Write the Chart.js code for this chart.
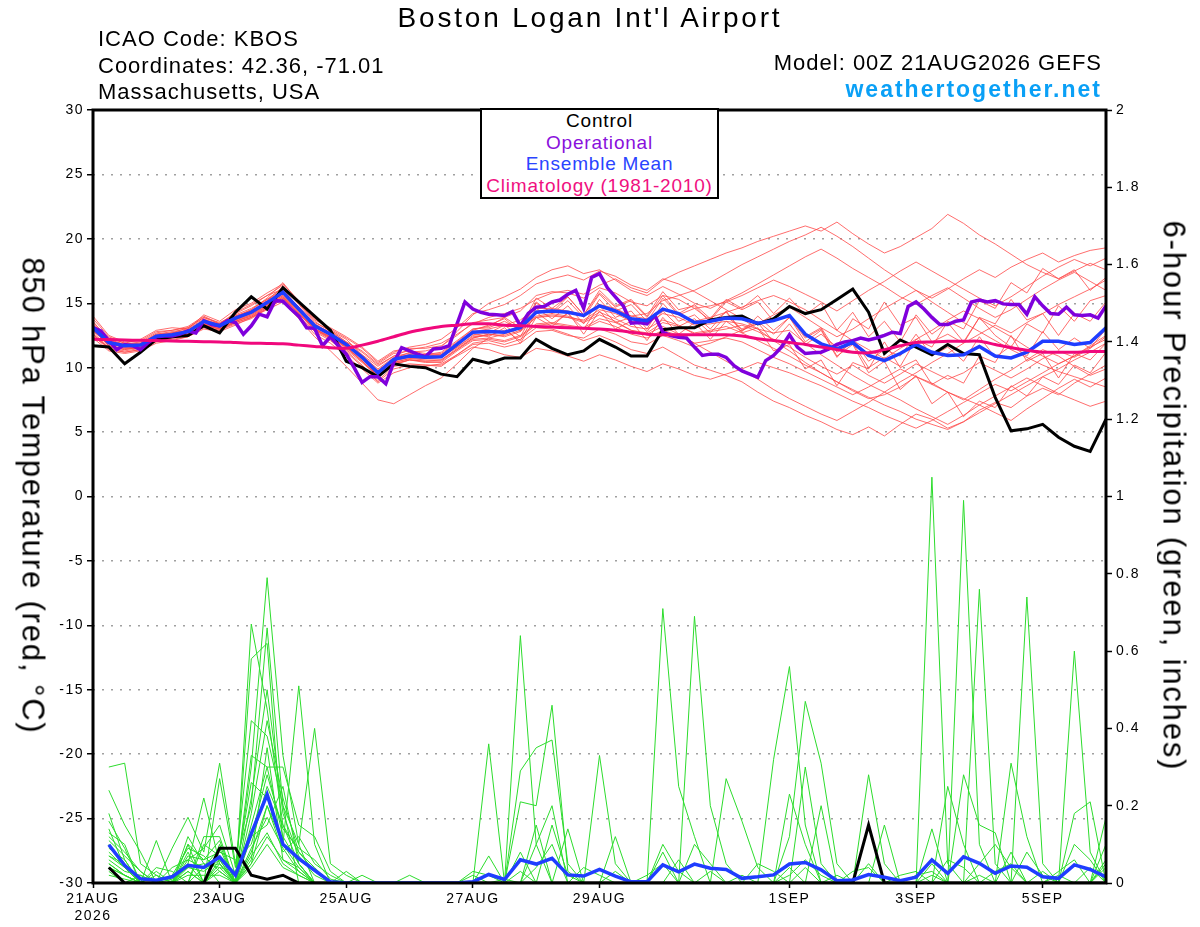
<!DOCTYPE html>
<html>
<head>
<meta charset="utf-8">
<title>Boston Logan Int'l Airport - GEFS</title>
<script src="https://cdn.jsdelivr.net/npm/chart.js@4.4.1/dist/chart.umd.min.js"></script>
<style>
  body { margin: 0; background: #fff; }
  #wrap { position: relative; width: 1200px; height: 927px; background: #fff; overflow: hidden; }
  #chart { position: absolute; left: 0; top: 0; }
  .txt { position: absolute; font-family: "Liberation Sans", Arial, Helvetica, sans-serif; line-height: 1; white-space: nowrap; color: #000; }
  #title { left: 0; width: 1180px; text-align: center; top: 4px; font-size: 28px; letter-spacing: 2.8px; }
  .info { left: 98px; font-size: 22px; letter-spacing: 1px; }
  #model { right: 98px; top: 52px; font-size: 22px; letter-spacing: 1px; }
  #site { right: 98px; top: 78px; font-size: 23px; font-weight: bold; letter-spacing: 2px; color: #0aa0f6; }
  #legend { left: 480px; top: 108px; width: 239px; height: 91px; box-sizing: border-box; border: 2px solid #000; background: #fff;
            text-align: center; font-size: 19px; letter-spacing: 0.8px; }
  #legend div { height: 21.7px; line-height: 21.7px; }
  .axis-title { font-size: 31px; letter-spacing: 1.85px; transform: translate(-50%, -50%) rotate(90deg); }
</style>
</head>
<body>
<div id="wrap">
  <canvas id="chart" width="1200" height="927"></canvas>
  <div class="txt" id="title">Boston Logan Int'l Airport</div>
  <div class="txt info" style="top:28px">ICAO Code: KBOS</div>
  <div class="txt info" style="top:55px">Coordinates: 42.36, -71.01</div>
  <div class="txt info" style="top:81px">Massachusetts, USA</div>
  <div class="txt" id="model">Model: 00Z 21AUG2026 GEFS</div>
  <div class="txt" id="site">weathertogether.net</div>
  <div class="txt" id="legend">
    <div style="color:#000">Control</div>
    <div style="color:#8a10dc">Operational</div>
    <div style="color:#2a44ff">Ensemble Mean</div>
    <div style="color:#f0107f">Climatology (1981-2010)</div>
  </div>
  <div class="txt axis-title" style="left:32.5px; top:496px">850 hPa Temperature (red, °C)</div>
  <div class="txt axis-title" style="left:1174px; top:496px">6-hour Precipitation (green, inches)</div>
</div>
<script>
// forecast steps are 6-hourly from 00Z 21AUG (step 0) to 00Z 6SEP (step 64)
const tickSteps = [0, 8, 16, 24, 32, 44, 52, 60];
const tickLabels = [['21AUG', '2026'], '23AUG', '25AUG', '27AUG', '29AUG', '1SEP', '3SEP', '5SEP'];

// 850 hPa temperature, steps 0..64
const controlTemp = [
  11.7,11.6,10.3,11.2,12.2,12.4,12.5,13.25, 12.7,14.3,15.5,14.55,16.2,15.1,14.0,12.9,
  10.5,10.0,9.3,10.3,10.1,10.0,9.5,9.3, 10.65,10.35,10.75,10.75,12.2,11.5,11.0,11.3,
  12.2,11.6,10.9,10.9,12.95,13.1,13.1,13.7, 13.9,14.0,13.4,13.8,14.75,14.2,14.5,15.3,
  16.1,14.3,11.1,12.15,11.6,11.0,11.8,11.1, 11.0,7.7,5.1,5.25,5.6,4.6,3.9,3.5, 6.0
];
const meanTemp = [
  13.1,11.95,11.7,11.75,12.45,12.55,12.8,13.6, 13.25,13.85,14.3,15.05,15.85,14.55,13.25,12.6,
  11.8,10.8,9.6,10.65,10.9,10.8,10.85,11.8, 12.75,12.8,12.75,13.1,14.3,14.4,14.3,14.05,
  14.8,14.4,13.8,13.65,14.55,14.2,13.5,13.6, 13.85,13.8,13.45,13.65,14.05,12.6,11.85,11.45,
  11.95,10.95,10.55,11.1,11.8,11.2,10.95,11.0, 11.65,10.9,10.75,11.2,12.05,12.05,11.8,11.95, 13.1
];
const climoTemp = [
  12.2,12.18,12.15,12.12,12.1,12.07,12.05,12.02, 12.0,11.95,11.9,11.88,11.85,11.75,11.65,11.55,
  11.5,11.75,12.05,12.4,12.75,13.0,13.2,13.3, 13.4,13.4,13.3,13.25,13.2,13.15,13.1,13.05,
  13.0,12.9,12.75,12.6,12.55,12.55,12.55,12.55, 12.55,12.45,12.25,12.1,11.95,11.8,11.6,11.4,
  11.2,11.15,11.4,11.7,11.95,12.0,12.05,12.05, 12.05,11.8,11.55,11.35,11.2,11.2,11.2,11.25, 11.25
];
// operational run is 3-hourly: steps 0, 0.5, 1 ... 64
const operationalTemp = [
  13.1,12.85,12.1,11.4,11.8,11.7,11.4,11.95,  12.4,12.45,12.45,12.6,12.85,12.7,13.65,13.35,
  13.25,13.65,13.5,12.6,13.25,14.15,13.95,15.2, 15.15,14.55,14.0,13.1,13.05,11.7,12.4,11.7,
  11.05,10.0,8.85,9.3,9.3,8.75,10.4,11.55,   11.3,11.05,10.85,11.45,11.5,11.7,13.4,15.1,
  14.55,14.3,14.15,14.1,14.05,14.35,13.25,14.2, 14.7,14.75,15.1,15.25,15.7,16.0,14.6,17.0,
  17.3,16.2,15.5,14.8,13.45,13.5,13.4,14.05, 12.75,12.5,12.35,12.3,11.6,10.95,11.05,11.05,
  10.8,10.15,9.75,9.5,9.25,10.55,10.95,11.6,  12.55,11.6,11.1,11.15,11.2,11.45,11.8,12.0,
  12.1,12.3,12.15,12.3,12.5,12.75,12.65,14.75, 15.1,14.55,13.9,13.35,13.35,13.6,13.7,15.1,
  15.25,15.1,15.2,14.95,14.9,14.9,14.15,15.5, 14.8,14.2,14.15,14.7,14.1,14.05,14.1,13.85, 14.8
];
const tempMembers = [
  [13.8,12.4,11.9,12.2,12.9,13.1,13.0,14.1,13.6,14.5,15.0,15.8,16.5,15.2,13.9,12.9,12.2, 11.0,10.1,10.9,11.4,11.6,11.9,12.6,13.4, 13.9,14.2,14.6,15.3,15.8,16.0,15.7,16.4,16.9,16.2,15.8,16.8,17.4,17.9,18.4,18.9,19.3,19.8,20.2,20.6, 21.0,20.6,21.3,20.4,19.6,18.9,19.4,20.1,20.8,21.9,21.2,20.3,19.6,18.8,18.0,17.4,16.9,17.5,18.1,17.6],
  [12.6,11.5,11.2,11.4,12.0,12.3,12.5,13.2,12.9,13.4,13.8,14.6,15.3,14.0,12.6,11.9,10.9, 9.9,8.8,9.6,10.0,10.1,10.3,11.0,11.9, 12.1,11.8,12.2,13.1,13.0,12.6,12.1,12.5,12.0,11.4,11.1,11.6,10.9,10.2,9.8,9.4,8.9,8.1,7.4,6.9, 6.3,5.8,5.2,4.8,5.4,4.7,5.6,6.4,6.0,5.3,5.8,6.7,7.3,6.9,7.8,8.4,7.9,8.8,9.5,10.2],
  [13.4,12.2,11.8,11.9,12.6,12.7,13.1,13.9,13.5,14.1,14.6,15.3,16.2,14.9,13.5,12.9,12.0, 11.2,10.2,10.9,11.1,11.0,11.2,12.1,13.0, 13.2,13.9,13.1,15.4,14.6,15.5,14.1,15.8,14.7,15.2,13.9,15.6,14.2,14.9,13.8,15.3,14.6,15.6,14.2,15.4, 14.1,15.0,12.9,14.3,12.4,13.6,12.0,14.1,12.6,13.5,12.0,13.9,12.5,11.6,13.4,12.7,14.8,13.6,15.2,15.6],
  [12.9,11.8,11.6,11.5,12.3,12.4,12.6,13.4,13.1,13.9,14.5,15.4,16.6,15.1,13.8,13.0,12.3, 11.5,10.4,11.2,11.6,11.8,12.2,13.1,14.2, 14.5,14.9,15.6,16.5,16.9,17.2,16.8,17.5,17.1,16.4,16.0,16.9,16.5,15.9,15.2,14.5,13.8,13.0,12.1,11.3, 10.4,9.6,8.9,8.2,7.6,7.9,8.5,9.3,8.8,8.1,7.5,8.3,9.1,9.8,10.6,11.4,10.9,10.1,9.4,9.9],
  [13.0,11.7,11.4,11.6,12.2,12.3,12.5,13.3,13.0,13.5,13.9,14.7,15.4,14.2,12.9,12.2,11.3, 10.2,9.0,10.1,10.3,10.2,10.1,11.0,11.8, 11.9,11.6,11.9,12.8,12.9,12.5,12.3,13.0,12.6,12.0,11.8,12.5,12.1,11.6,11.9,12.4,12.9,13.4,14.1,14.7, 13.9,13.1,12.4,13.0,13.8,14.6,15.3,16.0,15.4,16.1,16.9,17.6,17.0,17.8,18.4,18.9,18.2,18.7,19.1,19.3],
  [12.3,11.3,11.1,11.3,11.9,12.1,12.4,13.0,12.8,13.3,13.9,14.5,15.1,13.8,12.4,11.3,10.1, 8.8,7.5,7.2,7.9,8.6,9.2,10.3,11.5, 12.3,12.6,13.1,14.0,14.2,14.0,13.6,14.3,13.8,13.2,13.0,13.7,13.3,12.6,12.8,13.0,13.3,12.8,12.2,11.6, 10.8,10.1,9.5,10.2,9.4,8.8,9.5,10.3,9.7,9.1,9.6,10.4,9.8,9.2,9.9,10.7,11.3,10.8,11.5,12.4],
  [13.6,12.1,11.8,12.0,12.7,12.9,13.2,14.0,13.4,14.2,14.8,15.6,16.1,14.6,13.0,12.4,11.7, 10.9,9.9,10.8,11.0,10.9,11.0,11.9,12.6, 12.4,13.1,11.9,13.9,13.2,14.3,12.6,14.4,13.0,13.6,12.1,13.9,12.6,13.5,12.2,13.6,12.8,14.0,12.9,13.9, 12.3,13.0,10.9,11.8,9.6,10.5,8.3,9.4,7.2,8.1,6.2,7.4,6.9,8.6,7.8,9.3,8.7,10.2,9.6,11.2],
  [13.2,12.0,11.7,11.8,12.5,12.6,12.9,13.7,13.4,14.0,14.4,15.1,15.9,14.7,13.4,12.7,11.9, 11.0,9.8,10.7,11.2,11.3,11.6,12.8,14.1, 15.0,15.5,16.1,17.0,17.6,17.9,17.3,17.6,16.8,16.0,15.6,16.3,15.7,15.0,14.6,15.2,15.8,16.5,17.2,17.9, 18.6,19.2,18.5,17.7,17.0,16.3,15.5,14.9,15.6,16.2,15.4,14.6,13.9,14.5,15.3,16.1,16.8,17.4,16.7,16.0],
  [12.8,11.9,11.7,11.6,12.3,12.5,12.7,13.5,13.1,13.7,14.1,14.9,15.7,14.4,13.1,12.5,11.6, 10.5,9.4,10.4,10.7,10.6,10.6,11.4,12.3, 12.6,12.4,12.8,13.9,14.0,13.9,13.7,14.5,14.2,13.6,13.4,14.2,13.9,13.3,13.4,13.6,13.4,13.0,12.7,12.9, 11.9,11.0,10.2,9.4,8.7,8.1,7.5,6.8,6.2,5.6,6.3,7.1,6.5,5.9,6.8,7.6,8.4,9.1,8.5,9.2],
  [13.3,12.0,11.7,11.8,12.4,12.7,12.9,13.6,13.2,13.8,14.2,14.9,15.6,14.4,13.2,12.6,11.9, 10.9,9.7,10.6,10.9,10.7,10.8,11.6,12.4, 12.5,12.9,12.1,14.3,13.4,14.2,13.0,14.8,13.5,13.9,12.8,14.4,13.2,13.8,12.7,14.0,13.0,13.6,12.6,13.9, 12.0,12.9,10.8,12.2,10.5,11.4,10.9,12.6,10.9,11.6,10.5,12.4,10.8,11.7,10.9,12.8,11.4,12.3,11.5,13.0],
  [12.7,11.6,11.4,11.6,12.3,12.4,12.6,13.4,13.0,13.6,14.0,14.8,15.5,14.2,12.9,12.3,11.4, 10.4,9.3,10.3,10.6,10.5,10.6,11.5,12.3, 12.6,12.5,12.9,13.9,14.1,13.9,13.5,14.1,13.6,12.9,12.6,13.2,12.6,11.9,11.2,10.5,9.8,9.1,8.3,7.6, 7.0,6.4,5.9,6.6,7.3,8.1,8.9,9.6,10.4,11.1,11.9,12.6,13.3,12.7,13.5,14.2,14.9,15.5,16.1,16.8],
  [13.5,12.3,11.9,11.9,12.6,12.8,13.0,13.8,13.3,14.0,14.5,15.3,16.0,14.7,13.3,12.6,11.8, 10.7,9.5,10.5,10.8,10.8,10.9,11.8,12.8, 13.0,13.3,13.7,14.6,14.6,14.4,14.1,14.9,14.6,14.0,13.8,14.5,14.1,13.6,13.9,14.3,14.7,15.2,15.6,15.1, 14.5,13.7,12.9,12.1,11.4,10.7,11.5,12.2,12.9,13.7,14.4,13.8,13.1,12.4,11.6,10.9,10.3,10.9,11.7,12.5],
  [13.1,11.9,11.6,11.7,12.4,12.5,12.8,13.6,13.2,13.9,14.3,15.0,15.8,14.5,13.2,12.6,11.8, 10.8,9.6,10.6,10.9,10.9,10.9,11.8,12.7, 12.9,12.8,13.2,14.4,14.5,14.3,14.0,14.8,14.5,14.0,14.2,15.2,15.6,16.0,16.6,17.3,18.0,18.6,19.2,19.8, 20.3,20.9,20.2,19.4,18.5,17.6,16.8,16.0,15.1,14.3,13.5,12.8,12.1,11.4,10.8,10.2,9.7,9.3,8.9,8.5],
  [12.5,11.4,11.2,11.4,12.1,12.2,12.4,13.1,12.9,13.5,13.9,14.6,15.3,14.0,12.8,12.1,11.2, 10.1,8.9,9.9,10.2,10.2,10.2,10.9,11.6, 11.4,11.0,10.8,11.5,11.3,10.9,10.5,11.0,10.6,10.1,9.7,10.3,9.9,9.4,9.1,9.5,9.9,10.4,10.0,9.6, 9.1,8.6,8.0,7.4,6.9,6.3,5.8,5.3,5.9,6.6,7.3,8.0,8.7,8.2,8.9,9.6,10.3,10.9,11.6,12.2],
  [13.0,11.9,11.6,11.7,12.5,12.6,12.8,13.5,13.3,13.9,14.3,15.2,16.3,15.0,13.6,12.8,12.0, 11.3,10.3,11.1,11.3,11.1,11.0,11.9,12.9, 13.3,13.8,12.8,15.0,14.3,15.5,14.1,16.0,14.8,15.3,14.0,15.9,14.5,14.8,13.5,14.3,12.9,13.5,12.0,13.4, 11.8,12.6,11.6,13.8,13.0,15.1,13.3,13.9,12.0,12.6,11.9,13.9,13.4,15.3,13.7,14.2,12.5,14.2,13.6,15.1],
  [12.4,11.6,11.5,11.5,12.2,12.4,12.6,13.3,13.0,13.6,14.1,14.8,15.4,14.2,13.0,12.4,11.5, 10.5,9.3,10.2,10.6,10.4,10.4,11.3,12.1, 12.2,12.0,12.4,13.3,13.4,13.2,13.0,13.6,13.2,12.6,12.3,12.9,12.5,11.9,12.1,12.3,12.0,11.4,10.8,10.3, 9.7,9.1,8.5,7.9,8.5,9.2,9.9,9.3,8.7,8.1,7.6,7.1,7.8,8.5,9.2,8.6,8.0,7.5,7.0,7.4],
  [14.0,12.5,12.0,12.1,12.8,12.9,13.1,13.9,13.4,14.3,14.9,15.6,16.4,15.0,13.7,13.1,12.4, 11.6,10.5,11.3,11.5,11.5,11.7,12.5,13.5, 13.7,13.9,14.4,15.6,15.9,15.8,15.4,16.2,15.8,15.1,14.8,15.6,15.3,14.6,14.8,15.1,15.6,16.2,16.8,16.3, 15.7,15.1,14.4,15.2,16.0,16.7,17.5,18.2,17.5,16.8,16.1,15.4,14.8,15.5,16.3,17.1,17.8,18.4,17.9,18.5],
  [12.9,11.7,11.5,11.6,12.3,12.4,12.7,13.5,13.1,13.7,14.2,14.9,15.6,14.3,13.0,12.3,11.6, 10.6,9.5,10.4,10.7,10.7,10.8,11.6,12.5, 12.7,13.3,12.4,14.6,13.8,14.8,13.4,15.3,13.9,14.4,13.0,15.0,13.6,14.1,13.0,14.4,12.7,13.1,11.3,11.8, 9.9,10.6,8.6,10.4,9.9,12.0,10.0,10.6,8.7,9.4,8.8,10.9,10.4,12.5,10.5,11.1,9.2,11.1,10.6,11.9],
  [13.2,12.1,11.8,11.8,12.5,12.7,12.9,13.7,13.3,14.0,14.4,15.2,16.0,14.7,13.4,12.7,11.9, 10.8,9.7,10.7,11.0,11.0,11.1,12.0,13.0, 13.1,13.6,12.9,15.1,14.2,15.2,13.9,15.7,14.4,14.9,13.6,15.4,14.1,14.6,13.7,15.1,14.5,15.1,13.6,14.1, 12.4,13.1,11.2,11.9,10.0,10.8,10.1,12.2,11.6,13.6,13.0,15.2,14.6,16.6,15.8,17.7,16.9,17.6,16.0,17.0],
  [12.6,11.5,11.3,11.5,12.2,12.4,12.6,13.3,13.0,13.6,14.0,14.7,15.5,14.3,13.0,12.4,11.6, 10.5,9.4,10.3,10.6,10.5,10.5,11.4,12.2, 12.3,12.1,12.5,13.4,13.5,13.3,13.1,13.8,13.5,12.9,12.7,13.5,13.2,12.7,12.9,13.2,12.7,12.1,11.5,10.9, 10.2,9.6,8.9,8.3,7.7,7.1,6.6,6.0,5.6,5.2,5.8,6.5,7.2,7.9,8.6,9.3,9.9,10.6,11.2,11.9]
];

// 6-hour precipitation (inches), steps 1..64
const controlPrecip = [
  .04,0,0,0,0,0,0,.09, .09,.02,.01,.02,0,0,0,0, 0,0,0,0,0,0,0,0, 0,0,0,0,0,0,0,0,
  0,0,0,0,0,0,0,0, 0,0,0,0,0,0,0,0, .15,0,0,0,0,0,0,0, 0,0,0,0,0,0,0,0
];
const meanPrecip = [
  .099,.046,.011,.007,.016,.046,.04,.067, .02,.128,.229,.10,.063,.033,.003,0,
  0,0,0,0,0,0,0,.003, .022,.009,.06,.049,.064,.021,.018,.035,
  .018,.003,.003,.047,.029,.049,.038,.035, .012,.016,.021,.049,.053,.034,.006,.008,
  .022,.015,.006,.015,.06,.025,.068,.051, .025,.044,.041,.016,.012,.047,.035,.016
];
const precipMembers = [
  [.30,.31,.05,.02,0,0,0,.05, 0,.67,.45,.15,.05,0,0,0, 0,0,0,0,0,0,0,0, .36,0,0,0,0,0,0,0, .12,0,0,0,0,0,0,0, 0,0,0,0,0,0,0,0, 0,0,0,0,0,0,0,0, 0,.31,.12,0,0,0,0,0],
  [.24,.15,.08,0,0,.12,.05,0, 0,.30,.79,.33,.10,0,0,0, 0,0,0,0,0,0,0,0, .07,0,.08,0,0,.14,0,0, 0,0,0,0,0,0,0,0, 0,0,0,0,0,0,0,0, 0,0,0,0,.14,0,0,0, 0,0,0,0,0,0,0,.10],
  [.18,.06,0,0,.09,.17,.08,.31, .05,.20,.66,.20,0,0,0,0, 0,0,0,0,0,0,0,0, 0,0,.64,.10,0,0,0,0, 0,0,0,0,0,0,0,0, 0,0,0,.23,.10,0,0,0, 0,0,0,0,0,0,0,0, 0,0,0,0,0,.60,.08,0],
  [.13,.10,0,.11,0,.05,.22,.05, 0,.58,.62,.10,.51,.10,0,0, 0,0,0,0,0,0,0,0, 0,0,.29,.35,.37,.05,0,0, 0,0,0,0,0,0,0,0, 0,0,0,0,0,0,0,0, .28,.05,0,0,0,0,0,0, 0,0,0,0,0,0,0,0],
  [.12,.08,.03,0,0,.10,0,.27, .04,.42,.38,.20,.10,.40,.05,.02, 0,0,0,0,0,0,0,0, 0,0,.21,.20,.46,.03,0,0, 0,0,0,0,0,0,0,0, 0,0,0,0,0,0,0,0, 0,0,0,0,1.05,.05,0,0, 0,0,0,0,0,0,0,0],
  [.10,.05,0,.04,.03,0,.12,.12, 0,.33,.30,.30,.15,.12,.03,0, 0,0,0,0,0,0,0,0, 0,0,0,0,0,0,0,0, 0,0,0,.71,.25,.12,0,0, 0,0,0,0,0,0,0,0, 0,0,0,0,0,0,.28,.15, .13,0,0,0,0,0,0,0],
  [.08,.04,0,0,0,.08,0,.10, 0,.15,.30,.12,.05,0,0,0, 0,0,0,0,0,0,0,0, 0,0,0,0,0,0,0,0, 0,0,0,0,0,.69,.20,.05, 0,0,0,0,0,0,0,0, 0,0,0,0,0,0,.99,.10, 0,0,0,0,0,.18,.21,0],
  [.06,.03,.02,0,0,.07,.06,.08, .06,.10,.25,.15,.08,.04,0,0, .02,0,0,0,0,0,0,0, 0,0,0,0,0,0,0,0, 0,0,0,0,0,0,0,0, 0,0,.32,.56,.15,0,0,0, 0,0,0,0,0,0,0,.76, .05,0,0,0,0,0,0,0],
  [.05,.02,0,0,.04,.06,.04,.05, 0,.08,.20,.10,.06,.03,0,0, 0,0,0,0,0,0,0,.03, .02,0,0,0,0,0,0,0, 0,0,0,0,0,0,0,0, 0,0,0,.12,.47,.31,.05,0, 0,0,0,0,0,0,0,0, 0,0,.74,.05,0,0,0,0],
  [.04,.02,0,0,0,.04,.03,.06, 0,.05,.20,.08,.12,.05,.02,0, 0,0,0,.02,0,0,0,0, 0,0,0,0,0,0,0,.33, .05,0,0,0,0,0,0,0, 0,0,0,0,0,.20,0,0, 0,0,0,0,0,.25,.10,0, 0,0,0,0,0,0,0,.17],
  [.03,0,.02,0,0,.03,0,.04, .03,.12,.15,.25,.05,0,0,.03, 0,0,0,0,0,0,0,0, 0,0,0,0,.15,.02,0,0, 0,0,0,0,0,0,0,.27, .16,.04,0,0,0,0,0,0, 0,0,0,0,0,0,0,0, 0,0,0,0,0,.10,.06,0],
  [.09,.06,0,.02,0,0,.10,.07, 0,.22,.50,.18,.07,.02,0,0, 0,0,0,0,0,0,0,0, 0,0,0,.10,.20,0,0,0, 0,0,0,.08,0,0,0,0, 0,0,0,.04,0,0,0,0, 0,.15,0,0,.05,0,0,0, 0,.08,0,0,0,0,0,0],
  [.07,.05,0,0,.02,.09,.07,.03, 0,.06,.35,.06,.03,0,0,0, 0,0,0,0,0,0,0,0, 0,0,.03,0,0,0,0,0, 0,0,0,.10,.03,0,0,0, 0,0,0,0,.30,.05,0,0, 0,0,0,0,0,0,0,.05, .10,.04,0,0,0,0,0,0],
  [.02,.01,0,0,0,.02,.02,.02, 0,.04,.10,.04,.02,0,0,0, 0,0,0,0,0,0,0,0, 0,0,0,.04,.10,0,0,0, 0,0,0,0,0,.10,.05,0, 0,0,0,0,0,0,.02,0, 0,0,0,0,.02,0,0,0, 0,0,.08,.02,0,0,0,0],
  [.11,.07,.03,0,0,.06,.09,.15, .02,.26,.22,.10,.04,0,0,0, 0,0,0,0,0,0,0,.02, 0,0,0,.15,0,0,0,0, 0,0,0,0,.06,0,0,0, 0,0,0,0,0,0,0,0, .05,0,0,0,0,0,0,0, 0,0,0,0,.03,.06,0,0],
  [.14,.04,0,.03,0,0,.04,.09, 0,.12,.28,.14,.09,.06,.01,0, 0,0,0,0,0,0,0,0, 0,0,0,0,0,0,.04,.02, 0,0,0,0,0,0,0,0, 0,.05,.03,0,0,0,0,0, 0,0,0,0,0,.06,.04,0, 0,0,0,0,0,0,0,.05],
  [.16,.09,0,0,0,.10,.06,.11, 0,.18,.42,.22,.08,.03,0,0, 0,0,0,0,0,0,0,0, 0,0,0,0,0,0,0,0, 0,0,0,0,0,0,.03,0, 0,0,0,0,.04,0,0,0, 0,0,.02,.03,0,0,0,0, 0,0,0,0,.02,0,0,.06],
  [.07,.04,0,0,0,.05,0,.06, 0,.09,.17,.09,.03,0,0,0, 0,0,0,0,0,0,0,0, 0,.01,0,0,0,0,0,0, 0,0,.02,.05,0,0,0,0, 0,0,0,0,0,0,0,.03, .04,0,0,0,0,0,0,0, .03,.05,0,0,0,0,0,0],
  [.05,.02,0,0,.01,.04,.05,.04, 0,.07,.13,.05,.02,0,0,0, 0,0,0,0,0,0,0,0, 0,0,0,0,0,0,0,0, .03,0,0,0,0,0,0,0, 0,0,0,.02,.06,.02,0,0, 0,0,0,0,0,0,0,0, 0,0,0,0,0,0,.04,0],
  [.04,.02,0,0,0,.03,0,.03, 0,.05,.12,.06,.04,0,0,0, 0,0,0,0,0,0,0,0, 0,0,0,0,0,0,0,0, 0,0,0,0,0,0,0,0, .02,0,0,0,0,0,0,0, 0,0,0,.02,.03,0,0,.02, 0,0,0,.03,0,0,0,.04]
];

Chart.defaults.font.family = '"Liberation Sans", Arial, Helvetica, sans-serif';
Chart.defaults.color = '#000';

function points(values, first, step) {
  return values.map((v, i) => ({ x: first + i * step, y: v }));
}

function line(data, color, width, axis) {
  return { data, borderColor: color, borderWidth: width, yAxisID: axis, pointRadius: 0, fill: false, tension: 0 };
}

// wider tick lettering, and the plot frame on top of everything
const framePlugin = {
  id: 'frame',
  beforeDraw(chart) {
    chart.ctx.letterSpacing = '1.5px';
  },
  afterDraw(chart) {
    const { ctx, chartArea: a } = chart;
    ctx.save();
    ctx.lineWidth = 3;
    ctx.strokeStyle = '#000';
    ctx.strokeRect(a.left, a.top, a.right - a.left, a.bottom - a.top);
    ctx.restore();
  }
};

// first dataset is drawn on top
const datasets = [
  { ...line(points(climoTemp, 0, 1), '#f0087c', 3, 'y'), tension: 0.3 },
  line(points(meanTemp, 0, 1), '#1f3dff', 3.5, 'y'),
  line(points(meanPrecip, 1, 1), '#1f3dff', 3.5, 'y1'),
  line(points(operationalTemp, 0, 0.5), '#7f00dc', 3.5, 'y'),
  line(points(controlTemp, 0, 1), '#000', 3, 'y'),
  line(points(controlPrecip, 1, 1), '#000', 3, 'y1'),
  ...precipMembers.map(m => line(points(m, 1, 1), '#2cdc2c', 1, 'y1')),
  ...tempMembers.map(m => line(points(m, 0, 1), 'rgba(255,72,72,0.8)', 1, 'y'))
];

new Chart(document.getElementById('chart'), {
  type: 'line',
  data: { datasets },
  options: {
    responsive: false,
    animation: false,
    events: [],
    layout: { padding: { top: 110, left: 0, right: 0, bottom: 0 } },
    plugins: { legend: { display: false }, tooltip: { enabled: false } },
    scales: {
      x: {
        type: 'linear', min: 0, max: 64,
        afterBuildTicks: s => { s.ticks = tickSteps.map(v => ({ value: v })); },
        afterFit: s => { s.height = 44; },
        ticks: {
          color: '#000', font: { size: 14, lineHeight: 1.25 }, padding: 2, maxRotation: 0, autoSkip: false,
          callback: v => { const k = tickSteps.indexOf(v); return k < 0 ? '' : tickLabels[k]; }
        },
        grid: { drawOnChartArea: false, tickLength: 5, tickColor: '#000', tickWidth: 1.5 },
        border: { display: false }
      },
      y: {
        position: 'left', min: -30, max: 30,
        afterFit: s => { s.width = 93; },
        ticks: { stepSize: 5, color: '#000', font: { size: 14 }, padding: 3 },
        grid: { color: '#a0a0a0', lineWidth: 1.5, tickLength: 6, tickColor: '#000', tickWidth: 1.5, tickBorderDash: [] },
        border: { display: false, dash: [2, 7] }
      },
      y1: {
        position: 'right', min: 0, max: 2,
        afterFit: s => { s.width = 94; },
        ticks: { stepSize: 0.2, color: '#000', font: { size: 14 }, padding: 4, callback: v => String(+v.toFixed(1)) },
        grid: { drawOnChartArea: false, tickLength: 6, tickColor: '#000', tickWidth: 1.5 },
        border: { display: false }
      }
    }
  },
  plugins: [framePlugin]
});
</script>
</body>
</html>
